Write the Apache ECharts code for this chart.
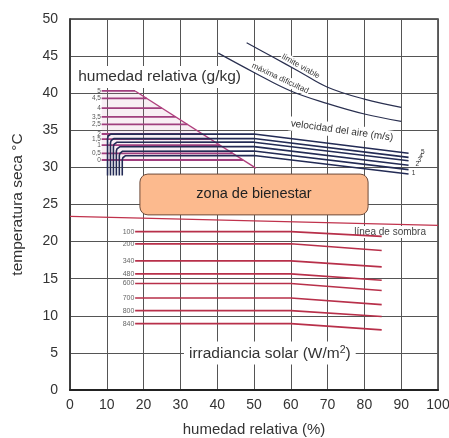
<!DOCTYPE html>
<html><head><meta charset="utf-8">
<script src="https://cdn.jsdelivr.net/npm/echarts@6/dist/echarts.min.js"></script>
<style>html,body{margin:0;padding:0;background:#fff}#c{width:449px;height:438px}</style>
</head><body><div id="c"></div>
<script>
// ---------- data ----------
const humidityLabels = ['5','4,5','4','3,5','2,5','2','1,5','1','0,5','0'];
const humidityTemps  = [40.3, 39.3, 38.0, 36.8, 35.8, 34.5, 33.8, 33.0, 31.9, 31.0];
const humidityStartRH = 8.6;
const humidityLimitRH = [17.7, 50.5];
const humidityLimitT  = [40.3, 29.9];

const velocityLabels   = ['5','4','3','2','','1'];
const velocityRH       = [10.2, 11.0, 11.8, 12.6, 13.4, 14.2];
const velocityTemps    = [34.5, 33.9, 33.4, 32.8, 32.2, 31.6];
const velocityEndTemps = [31.9, 31.35, 30.9, 30.3, 29.7, 29.1];
const velocityBottomT  = 28.9;
const velocityBendRH   = 50;
const velocityEndRH    = 92;

const irradianceLabels   = ['100','200','340','480','600','700','800','840'];
const irradianceTemps    = [21.35, 19.7, 17.4, 15.65, 14.35, 12.4, 10.7, 8.95];
const irradianceEndTemps = [20.7, 18.8, 16.6, 14.8, 13.4, 11.5, 9.9, 8.1];
const irradianceStartRH = 17.7;
const irradianceBendRH  = 60;
const irradianceEndRH   = 84.7;

const shadowRH = [0, 100];
const shadowT  = [23.4, 22.2];

const viableRH = [48, 55, 62, 70, 80, 90];
const viableT  = [46.8, 44.9, 43.0, 40.8, 39.2, 38.1];
const difficultyRH = [40.3, 50, 60, 70, 80, 90];
const difficultyT  = [45.4, 42.8, 40.3, 38.6, 37.2, 36.2];

const comfortRH = [19, 81];
const comfortT  = [23.6, 29.1];

// ---------- layout / styles ----------
const FONT = "'Liberation Sans', Arial, Helvetica, sans-serif";
const MAGENTA = '#A03E7E';
const NAVY = '#232B55';
const RED = '#B8304A';

const chart = echarts.init(document.getElementById('c'));
const series = [];
function addLine(data, color, width, z, smooth) {
  series.push({type:'line', data, symbol:'none', silent:true, smooth: smooth || false,
    z: z || 3, lineStyle:{color, width}, animation:false});
}
const zip = (a, b) => a.map((v, i) => [v, b[i]]);

// humidity (g/kg)
const slope = (humidityLimitT[1]-humidityLimitT[0])/(humidityLimitRH[1]-humidityLimitRH[0]);
const humidityEndRH = humidityTemps.map(t => humidityLimitRH[0] + (t - humidityLimitT[0]) / slope);
series.push({type:'custom', silent:true, z:1, animation:false,
  data:[[humidityStartRH, humidityTemps[0]]],
  renderItem:(p, api) => {
    const n = humidityTemps.length - 1;
    const pts = [[humidityStartRH, humidityTemps[0]], [humidityEndRH[0], humidityTemps[0]],
                 [humidityEndRH[n], humidityTemps[n]], [humidityStartRH, humidityTemps[n]]].map(c => api.coord(c));
    return {type:'polygon', shape:{points:pts}, style:{fill:'rgba(200,120,170,0.13)'}};
  }});
humidityTemps.forEach((t, i) => addLine([[humidityStartRH, t], [humidityEndRH[i], t]], MAGENTA, 1.8, 3));
addLine(zip(humidityLimitRH, humidityLimitT), '#B0407E', 1.4, 3);

// air velocity
const rx = 1.2, ry = 0.6;
velocityTemps.forEach((t, i) => {
  const x = velocityRH[i];
  const pts = [[x, velocityBottomT], [x, t - ry]];
  for (let k = 1; k < 6; k++) {
    const a = Math.PI - k * Math.PI / 12;
    pts.push([x + rx + rx * Math.cos(a), t - ry + ry * Math.sin(a)]);
  }
  pts.push([x + rx, t], [velocityBendRH, t], [velocityEndRH, velocityEndTemps[i]]);
  addLine(pts, NAVY, 1.6, 4);
});

// irradiance
irradianceTemps.forEach((t, i) => addLine(
  [[irradianceStartRH, t], [irradianceBendRH, t], [irradianceEndRH, irradianceEndTemps[i]]], RED, 1.6, 3));

// shade line
addLine(zip(shadowRH, shadowT), '#C0324C', 1.3, 2);

// limit curves
addLine(zip(viableRH, viableT), '#2A3050', 1.2, 3, 0.4);
addLine(zip(difficultyRH, difficultyT), '#2A3050', 1.2, 3, 0.4);

// comfort zone
series.push({type:'custom', silent:true, z:5, animation:false,
  data:[[comfortRH[0], comfortT[0]]],
  renderItem:(p, api) => {
    const a = api.coord([comfortRH[0], comfortT[1]]);
    const b = api.coord([comfortRH[1], comfortT[0]]);
    return {type:'group', children:[
      {type:'rect', shape:{x:a[0], y:a[1], width:b[0]-a[0], height:b[1]-a[1], r:8},
       style:{fill:'#FCBA8E', stroke:'#6E4B3A', lineWidth:1}},
      {type:'text', x:(a[0]+b[0])/2, y:(a[1]+b[1])/2,
       style:{text:'zona de bienestar', font:`14.5px ${FONT}`, fill:'#222', align:'center', verticalAlign:'middle'}}
    ]};
  }});

// annotations
const annotations = [
  {text:'humedad relativa (g/kg)', rh:1.4, t:42.2, align:'left', size:15.5, rot:0, bg:true, pad:[3,3]},
  {text:'velocidad del aire (m/s)', rh:73.9, t:34.95, size:10, rot:-8, bg:true, pad:[2,2]},
  {text:'límite viable', rh:62.7, t:43.6, size:8, rot:-29, bg:true, pad:[1,1]},
  {text:'máxima dificultad', rh:57.1, t:42.0, size:8, rot:-25, bg:true, pad:[1,1]},
  {text:'línea de sombra', rh:87, t:21.3, size:10, rot:0, bg:true, pad:[1,2], color:'#444'},
  {text:'{n|irradiancia solar (W/m}{s|2}{n|)}', rh:54.3, t:5.0, size:15.5, rot:0, bg:true, pad:[3,5]}
];
humidityLabels.forEach((l, i) => annotations.push(
  {text:l, rh:humidityStartRH - 0.2, t:humidityTemps[i], size:6.5, align:'right', color:'#555'}));
irradianceLabels.forEach((l, i) => annotations.push(
  {text:l, rh:irradianceStartRH - 0.2, t:irradianceTemps[i], size:7, align:'right', color:'#666'}));
velocityLabels.forEach((l, i) => { if (l) annotations.push(
  {text:l, rh:velocityEndRH + 0.9 + (velocityLabels.length - 1 - i) * 0.5, t:velocityEndTemps[i] + 0.1, size:6.5, align:'left', color:'#333'}); });

series.push({type:'custom', silent:true, z:1, animation:false,
  data: annotations.map((a, i) => [a.rh, a.t]),
  renderItem:(p, api) => {
    const a = annotations[p.dataIndex];
    const c = api.coord([a.rh, a.t]);
    return {type:'text', x:c[0], y:c[1], rotation:(a.rot||0)*Math.PI/180, z2: 10,
      style:{text:a.text, font:`${a.size}px ${FONT}`, fill:a.color || '#333',
        align:a.align || 'center', verticalAlign:'middle',
        backgroundColor: a.bg ? '#fff' : null, padding: a.pad || 0,
        rich:{
          n:{fontSize:a.size, fontFamily:FONT, fill:'#333', lineHeight:17, verticalAlign:'bottom'},
          s:{fontSize:10.5, fontFamily:FONT, fill:'#333', lineHeight:11, verticalAlign:'top'}
        }}};
  }});

chart.setOption({
  animation:false,
  textStyle:{fontFamily:FONT},
  grid:{left:70, right:11, top:19, bottom:48, show:true, borderColor:'#333', borderWidth:1.5,
    backgroundColor:'transparent', containLabel:false, outerBoundsMode:'none'},
  xAxis:{type:'value', min:0, max:100, interval:10,
    name:'humedad relativa (%)', nameLocation:'middle', nameGap:32,
    nameTextStyle:{fontSize:15, color:'#333', fontFamily:FONT},
    axisLine:{show:true, lineStyle:{color:'#222', width:2}}, axisTick:{show:false},
    axisLabel:{fontSize:14, color:'#333', margin:8, fontFamily:FONT},
    splitLine:{show:true, lineStyle:{color:'#555', width:1}}},
  yAxis:{type:'value', min:0, max:50, interval:5,
    name:'temperatura seca °C', nameLocation:'middle', nameGap:44,
    nameTextStyle:{fontSize:15.5, color:'#333', fontFamily:FONT},
    axisLine:{show:true, lineStyle:{color:'#333', width:1.5}}, axisTick:{show:false},
    axisLabel:{fontSize:14, color:'#333', margin:12, fontFamily:FONT},
    splitLine:{show:true, lineStyle:{color:'#555', width:1}}},
  series
});
</script></body></html>
